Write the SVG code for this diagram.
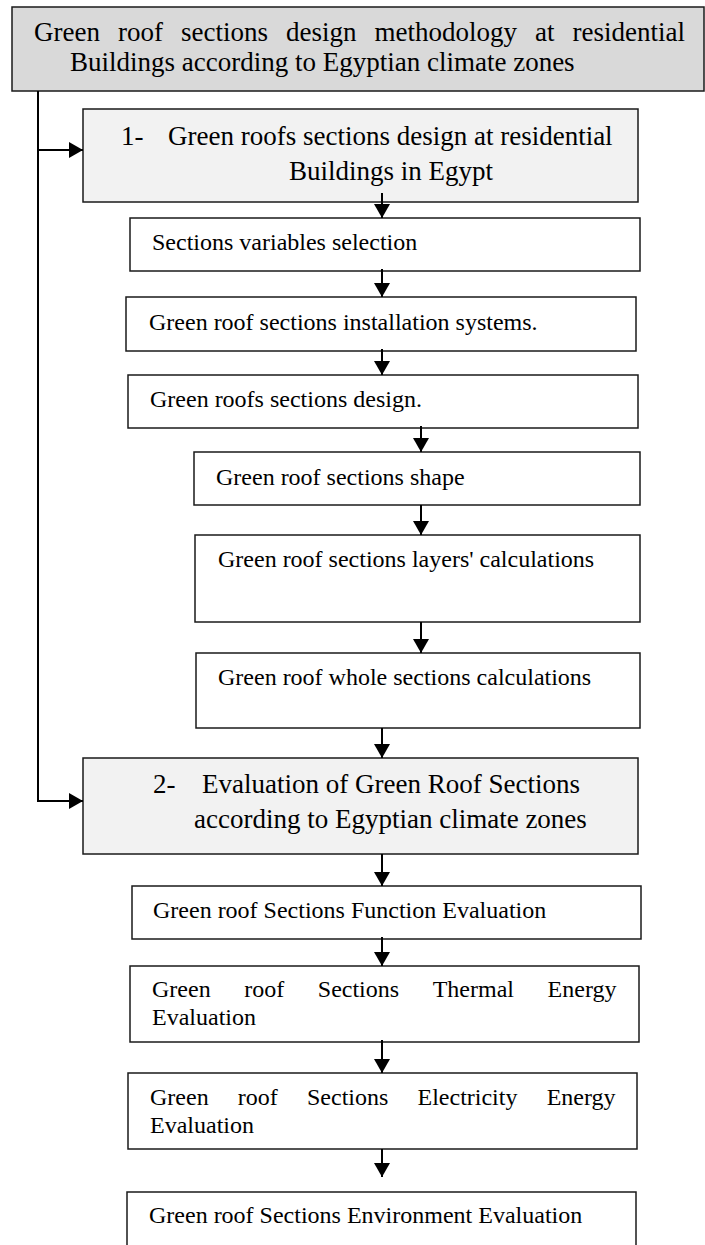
<svg xmlns="http://www.w3.org/2000/svg" width="705" height="1245" viewBox="0 0 705 1245">
<style>
.bx{fill:#ffffff;stroke:#1a1a1a;stroke-width:1.5}
.top{fill:#d9d9d9}
.hd{fill:#f2f2f2}
.t{font-family:"Liberation Serif","Times New Roman",serif;font-size:24px;fill:#000}
.th{font-size:27px}
.cn{fill:none;stroke:#000;stroke-width:2}
</style>
<defs>
<marker id="ah" viewBox="0 0 14 16" refX="14" refY="8" markerWidth="14" markerHeight="16" markerUnits="userSpaceOnUse" orient="auto">
<path d="M0,0 L14,8 L0,16 z" fill="#000"/>
</marker>
</defs>
<rect width="705" height="1245" fill="#ffffff"/>
<g id="n-top">
<rect class="bx top" x="12" y="7" width="692" height="84"/>
<text class="t th" y="41"><tspan x="34">Green</tspan><tspan x="118">roof</tspan><tspan x="181">sections</tspan><tspan x="286">design</tspan><tspan x="374.5">methodology</tspan><tspan x="535">at</tspan><tspan x="572.5">residential</tspan></text>
<text class="t th" x="70" y="71">Buildings according to Egyptian climate zones</text>
</g>
<g id="n-h1">
<rect class="bx hd" x="83" y="109" width="555" height="93"/>
<text class="t th" y="145"><tspan x="121">1-</tspan><tspan x="168">Green roofs sections design at residential</tspan></text>
<text class="t th" x="289" y="180">Buildings in Egypt</text>
</g>
<g id="n-secvar">
<rect class="bx" x="130" y="218" width="510" height="53"/>
<text class="t" x="152" y="250">Sections variables selection</text>
</g>
<g id="n-install">
<rect class="bx" x="126" y="297" width="510" height="54"/>
<text class="t" x="149" y="330">Green roof sections installation systems.</text>
</g>
<g id="n-design">
<rect class="bx" x="128" y="375" width="510" height="53"/>
<text class="t" x="150" y="407">Green roofs sections design.</text>
</g>
<g id="n-shape">
<rect class="bx" x="194" y="452" width="446" height="53"/>
<text class="t" x="216" y="485">Green roof sections shape</text>
</g>
<g id="n-layers">
<rect class="bx" x="195" y="535" width="445" height="87"/>
<text class="t" x="218" y="567">Green roof sections layers' calculations</text>
</g>
<g id="n-whole">
<rect class="bx" x="196" y="653" width="444" height="75"/>
<text class="t" x="218" y="685">Green roof whole sections calculations</text>
</g>
<g id="n-h2">
<rect class="bx hd" x="83" y="758" width="555" height="96"/>
<text class="t th" y="793"><tspan x="153">2-</tspan><tspan x="202">Evaluation of Green Roof Sections</tspan></text>
<text class="t th" x="194" y="828">according to Egyptian climate zones</text>
</g>
<g id="n-function">
<rect class="bx" x="132" y="886" width="509" height="53"/>
<text class="t" x="153" y="918">Green roof Sections Function Evaluation</text>
</g>
<g id="n-thermal">
<rect class="bx" x="130" y="966" width="509" height="76"/>
<text class="t" y="997"><tspan x="152">Green</tspan><tspan x="244.2">roof</tspan><tspan x="317.8">Sections</tspan><tspan x="432.7">Thermal</tspan><tspan x="547.6">Energy</tspan></text>
<text class="t" x="152" y="1025">Evaluation</text>
</g>
<g id="n-elec">
<rect class="bx" x="128" y="1073" width="509" height="76"/>
<text class="t" y="1105"><tspan x="150">Green</tspan><tspan x="237.8">roof</tspan><tspan x="307">Sections</tspan><tspan x="417.5">Electricity</tspan><tspan x="546.7">Energy</tspan></text>
<text class="t" x="150" y="1133">Evaluation</text>
</g>
<g id="n-env">
<rect class="bx" x="127" y="1192" width="509" height="70"/>
<text class="t" x="149" y="1223">Green roof Sections Environment Evaluation</text>
</g>
<g id="connectors">
<path class="cn" d="M38,91 V801 H83" marker-end="url(#ah)"/>
<path class="cn" d="M38,150 H83" marker-end="url(#ah)"/>
<path class="cn" d="M382,193 V218" marker-end="url(#ah)"/>
<path class="cn" d="M382,269 V297" marker-end="url(#ah)"/>
<path class="cn" d="M382,349 V375" marker-end="url(#ah)"/>
<path class="cn" d="M421,426 V452" marker-end="url(#ah)"/>
<path class="cn" d="M421,505 V535" marker-end="url(#ah)"/>
<path class="cn" d="M421,622 V653" marker-end="url(#ah)"/>
<path class="cn" d="M382,728 V758" marker-end="url(#ah)"/>
<path class="cn" d="M382,854 V886" marker-end="url(#ah)"/>
<path class="cn" d="M382,937 V966" marker-end="url(#ah)"/>
<path class="cn" d="M382,1040 V1073" marker-end="url(#ah)"/>
<path class="cn" d="M382,1149 V1177" marker-end="url(#ah)"/>
</g>
</svg>
